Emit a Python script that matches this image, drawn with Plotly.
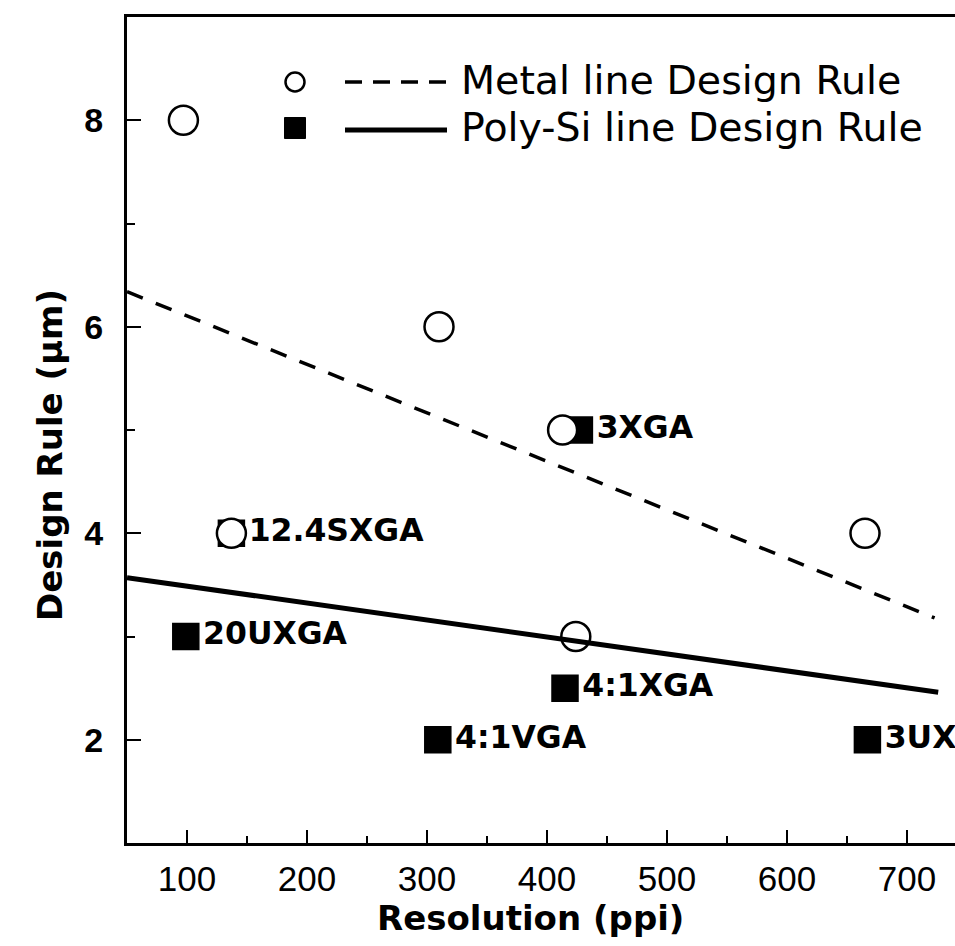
import plotly.graph_objects as go

# ---- data ----
metal_x = [97, 137, 310, 413, 424, 665]
metal_y = [8, 4, 6, 5, 3, 4]

poly_x = [99, 137, 309, 415, 427, 667]
poly_y = [3, 4, 2, 2.5, 5, 2]
poly_labels = ["20UXGA", "12.4SXGA", "4:1VGA", "4:1XGA", "3XGA", "3UXGA"]

metal_fit_x = [50, 723]
metal_fit_y = [6.34, 3.18]
poly_fit_x = [50, 726]
poly_fit_y = [3.57, 2.46]

x_ticks = [100, 200, 300, 400, 500, 600, 700]
y_ticks = [2, 4, 6, 8]

legend_names = ["Metal line Design Rule", "Poly-Si line Design Rule"]

# ---- layout geometry (pixels) ----
W, H = 955, 946
L, R, T, B = 127, 0, 17, 103
PW, PH = W - L - R, H - T - B


def px(x):
    return (x - L) / PW


def py(y):
    return (H - B - y) / PH


fig = go.Figure()

# squares (poly-Si) with labels
fig.add_trace(go.Scatter(
    x=poly_x, y=poly_y, mode="markers+text",
    marker=dict(symbol="square", size=26, color="black",
                line=dict(color="black", width=1.5)),
    text=poly_labels, textposition="middle right",
    textfont=dict(family="DejaVu Sans", size=31.5, color="black", weight="bold"),
    cliponaxis=False, showlegend=False,
))
# open circles (metal)
fig.add_trace(go.Scatter(
    x=metal_x, y=metal_y, mode="markers",
    marker=dict(symbol="circle", size=29, color="white",
                line=dict(color="black", width=2.5)),
    cliponaxis=False, showlegend=False,
))
# fit lines
fig.add_trace(go.Scatter(
    x=metal_fit_x, y=metal_fit_y, mode="lines",
    line=dict(color="black", width=3.5, dash="17px,14px"),
    showlegend=False,
))
fig.add_trace(go.Scatter(
    x=poly_fit_x, y=poly_fit_y, mode="lines",
    line=dict(color="black", width=5),
    showlegend=False,
))

# ---- manual legend ----
shapes = []
annotations = []
# metal entry
cx, cy, d = 295, 82, 19
shapes.append(dict(type="circle", xref="paper", yref="paper",
                   x0=px(cx - d / 2), x1=px(cx + d / 2),
                   y0=py(cy + d / 2), y1=py(cy - d / 2),
                   line=dict(color="black", width=2.5), fillcolor="white"))
shapes.append(dict(type="line", xref="paper", yref="paper",
                   x0=px(345), x1=px(447), y0=py(82), y1=py(82),
                   line=dict(color="black", width=3.5, dash="17px,11px")))
annotations.append(dict(xref="paper", yref="paper", x=px(459), y=py(80),
                        xanchor="left", yanchor="middle", showarrow=False,
                        text=legend_names[0],
                        font=dict(family="DejaVu Sans", size=39.5, color="black")))
# poly entry
cx, cy, s = 295, 128, 21
shapes.append(dict(type="rect", xref="paper", yref="paper",
                   x0=px(cx - s / 2), x1=px(cx + s / 2),
                   y0=py(cy + s / 2), y1=py(cy - s / 2),
                   line=dict(color="black", width=1), fillcolor="black"))
shapes.append(dict(type="line", xref="paper", yref="paper",
                   x0=px(345), x1=px(447), y0=py(130), y1=py(130),
                   line=dict(color="black", width=5)))
annotations.append(dict(xref="paper", yref="paper", x=px(459), y=py(127),
                        xanchor="left", yanchor="middle", showarrow=False,
                        text=legend_names[1],
                        font=dict(family="DejaVu Sans", size=39.5, color="black")))

# axis titles
annotations.append(dict(xref="paper", yref="paper", x=px(530), y=py(918),
                        xanchor="center", yanchor="middle", showarrow=False,
                        text="Resolution (ppi)",
                        font=dict(family="DejaVu Sans", size=34, color="black", weight="bold")))
annotations.append(dict(xref="paper", yref="paper", x=px(50), y=py(455),
                        xanchor="center", yanchor="middle", showarrow=False,
                        text="Design Rule (µm)", textangle=-90,
                        font=dict(family="DejaVu Sans", size=34, color="black", weight="bold")))

fig.update_layout(
    width=W, height=H,
    margin=dict(l=L, r=R, t=T, b=B),
    paper_bgcolor="white", plot_bgcolor="white",
    shapes=shapes, annotations=annotations,
    showlegend=False,
)
fig.update_xaxes(
    range=[50, 740], showgrid=False, zeroline=False,
    showline=True, linecolor="black", linewidth=3, mirror=True,
    tickmode="array", tickvals=x_ticks, ticktext=[str(v) for v in x_ticks],
    ticks="inside", ticklen=13, tickwidth=2, tickcolor="black",
    ticklabelstandoff=3,
    minor=dict(ticks="inside", ticklen=7, tickwidth=2, tickcolor="black",
               dtick=50, tick0=50, showgrid=False),
    tickfont=dict(family="Liberation Sans", size=35, color="black"),
)
fig.update_yaxes(
    range=[1, 9], showgrid=False, zeroline=False,
    showline=True, linecolor="black", linewidth=3, mirror=False,
    tickmode="array", tickvals=y_ticks, ticktext=[str(v) for v in y_ticks],
    ticks="inside", ticklen=14, tickwidth=2, tickcolor="black",
    ticklabelstandoff=14,
    minor=dict(ticks="inside", ticklen=8, tickwidth=2, tickcolor="black",
               dtick=1, tick0=1, showgrid=False),
    tickfont=dict(family="Liberation Sans", size=34, color="black", weight="bold"),
)

fig.write_html(
    "out.html",
    config={"displayModeBar": False},
    post_script=(
        "document.body.style.margin='0';"
        "document.body.style.overflow='hidden';"
        "document.documentElement.style.overflow='hidden';"
    ),
)
